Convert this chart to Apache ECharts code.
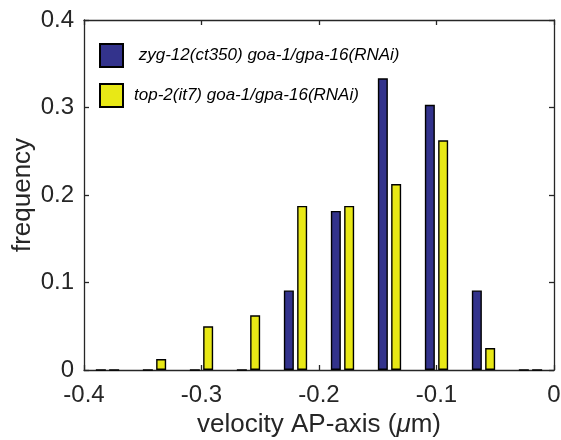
<!DOCTYPE html>
<html>
<head>
<meta charset="utf-8">
<script src="https://cdn.jsdelivr.net/npm/echarts@6/dist/echarts.min.js"></script>
<style>html,body{margin:0;padding:0;background:#fff}#c{width:561px;height:440px}</style>
</head>
<body>
<div id="c"></div>
<script>
// Histogram bin centers (bin width 0.04)
var binCenters = [-0.38, -0.34, -0.30, -0.26, -0.22, -0.18, -0.14, -0.10, -0.06, -0.02];
// Series names
var seriesNames = [' zyg-12(ct350) goa-1/gpa-16(RNAi)', 'top-2(it7) goa-1/gpa-16(RNAi)'];
// Frequencies
var zygValues = [0, 0, 0, 0, 0.0909, 0.1818, 0.3333, 0.3030, 0.0909, 0];
var topValues = [0, 0.0125, 0.05, 0.0625, 0.1875, 0.1875, 0.2125, 0.2625, 0.025, 0];
// Tick labels
var xTicks = ['-0.4', '-0.3', '-0.2', '-0.1', '0'];
var yTicks = ['0', '0.1', '0.2', '0.3', '0.4'];

var FONT = 'Liberation Sans, Arial, Helvetica, sans-serif';
var AX = '#262626';
var chart = echarts.init(document.getElementById('c'), null, {renderer: 'canvas'});

var frameLine = {show: true, onZero: false, lineStyle: {color: AX, width: 1.3}};
var tickIn = {show: true, inside: true, length: 5, lineStyle: {color: AX, width: 1.3}};

chart.setOption({
  animation: false,
  backgroundColor: '#fff',
  grid: {left: 84, right: 7, top: 20, bottom: 70, containLabel: false, outerBoundsMode: 'none'},
  legend: {
    orient: 'vertical', left: 99, top: 43, padding: 0,
    itemWidth: 23, itemHeight: 23, itemGap: 15,
    icon: 'rect',
    data: seriesNames,
    textStyle: {fontFamily: FONT, fontSize: 17, fontStyle: 'italic', color: '#000', padding: [0, 0, 0, 6]}
  },
  xAxis: [
    {type: 'category', data: binCenters.map(String), show: false, boundaryGap: true, gridIndex: 0},
    {type: 'value', position: 'bottom', min: -0.4, max: 0, interval: 0.1,
      axisLine: frameLine, axisTick: tickIn, splitLine: {show: false},
      axisLabel: {margin: 13, color: AX, fontFamily: FONT, fontSize: 24,
        formatter: function (v) { var i = Math.round((v + 0.4) / 0.1); return xTicks[i]; }},
      name: 'velocity AP-axis ({i|μ}m)', nameLocation: 'middle', nameGap: 36,
      nameTextStyle: {color: AX, fontFamily: FONT, fontSize: 26,
        rich: {i: {fontStyle: 'italic', color: AX, fontFamily: FONT, fontSize: 26}}}},
    {type: 'value', position: 'top', min: -0.4, max: 0, interval: 0.1,
      axisLine: frameLine, axisTick: tickIn, axisLabel: {show: false}, splitLine: {show: false}}
  ],
  yAxis: [
    {type: 'value', position: 'left', min: 0, max: 0.4, interval: 0.1,
      axisLine: frameLine, axisTick: tickIn, splitLine: {show: false},
      axisLabel: {margin: 10, color: AX, fontFamily: FONT, fontSize: 24,
        formatter: function (v) { return yTicks[Math.round(v / 0.1)]; }},
      name: 'frequency', nameLocation: 'middle', nameGap: 48, nameRotate: 90, nameMoveOverlap: false,
      nameTextStyle: {color: AX, fontFamily: FONT, fontSize: 26}},
    {type: 'value', position: 'right', min: 0, max: 0.4, interval: 0.1,
      axisLine: frameLine, axisTick: tickIn, axisLabel: {show: false}, splitLine: {show: false}}
  ],
  series: [
    {name: seriesNames[0], type: 'bar', xAxisIndex: 0, yAxisIndex: 0, data: zygValues,
      barWidth: 10, barGap: '33%', z: 3,
      itemStyle: {color: '#33338c', borderColor: '#000', borderWidth: 1.4}},
    {name: seriesNames[1], type: 'bar', xAxisIndex: 0, yAxisIndex: 0, data: topValues,
      barWidth: 10, barGap: '33%', z: 3,
      itemStyle: {color: '#e8e816', borderColor: '#000', borderWidth: 1.4}}
  ]
});
</script>
</body>
</html>
